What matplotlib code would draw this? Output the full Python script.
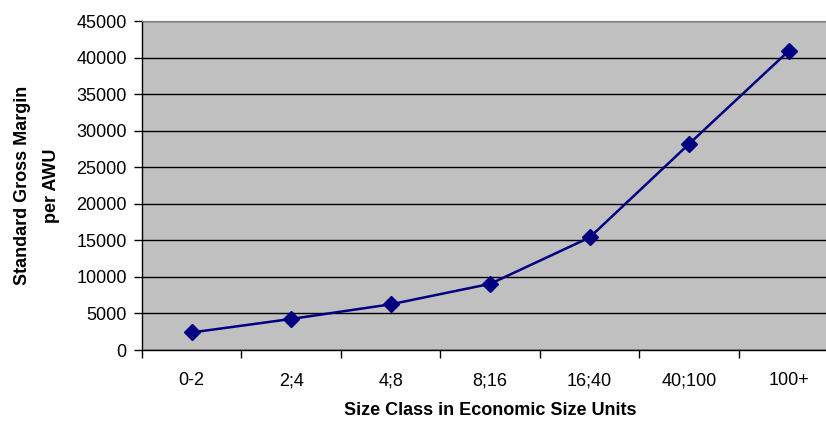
import matplotlib
matplotlib.use("Agg")
import matplotlib.pyplot as plt
import numpy as np

plt.rcParams['font.family'] = ['Liberation Sans', 'DejaVu Sans']

# Size classes (ESU) and standard gross margin per AWU
size_classes = ['0-2', '2;4', '4;8', '8;16', '16;40', '40;100', '100+']
sgm_per_awu = [2400, 4250, 6250, 9050, 15400, 28200, 40900]
y_ticks = list(range(0, 45001, 5000))

fig = plt.figure(figsize=(8.26, 4.21), dpi=100)
ax = fig.add_axes([0.1719, 0.1686, 0.8431, 0.7815])
ax.set_facecolor('#C0C0C0')

x = np.arange(len(size_classes))
ax.plot(x, sgm_per_awu, color='#000080', linewidth=1.8, marker='D',
        markersize=8, markerfacecolor='#000080', markeredgecolor='#000080',
        zorder=3, clip_on=False)

ax.set_xlim(-0.5, len(size_classes) - 0.5)
ax.set_ylim(0, 45000)
ax.set_yticks(y_ticks)
ax.set_yticklabels([str(v) for v in y_ticks])
ax.yaxis.grid(True, color='black', linewidth=1)
ax.set_axisbelow(True)

# category labels centred, tick marks on category boundaries
ax.set_xticks(x)
ax.set_xticklabels(size_classes)
ax.set_xticks(np.arange(-0.5, len(size_classes), 1), minor=True)
ax.tick_params(axis='x', which='major', length=0, pad=16, labelsize=13)
ax.tick_params(axis='x', which='minor', length=6, width=1, color='black')
ax.tick_params(axis='y', length=6, width=1, labelsize=13, pad=5)

for side in ['left', 'bottom']:
    ax.spines[side].set_color('black')
    ax.spines[side].set_linewidth(1)
ax.spines['top'].set_color('#808080')
ax.spines['right'].set_visible(False)

ax.set_xlabel('Size Class in Economic Size Units', fontsize=13,
              fontweight='bold', labelpad=9)
ax.set_ylabel('Standard Gross Margin\nper AWU', fontsize=13,
              fontweight='bold', labelpad=12, linespacing=1.85)

fig.savefig('out.png', dpi=100)
